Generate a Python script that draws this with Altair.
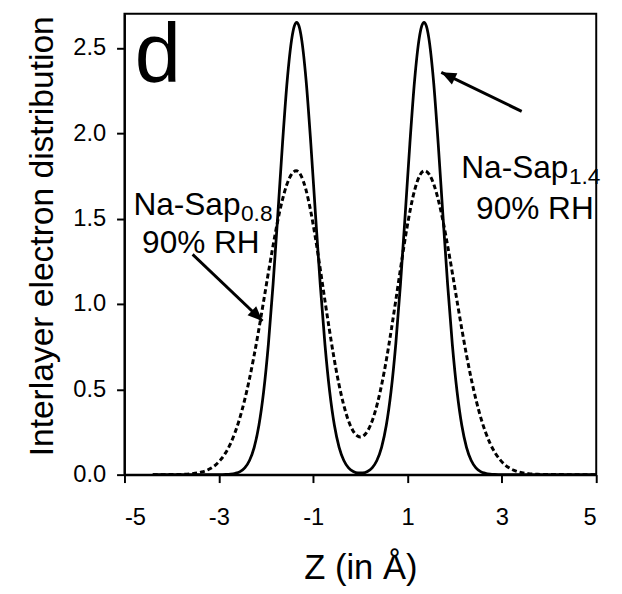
import altair as alt
import pandas as pd

# ---- data ----
solid_z = [-4.4, -3.5, -3.0, -2.85, -2.75, -2.65, -2.55, -2.45, -2.35, -2.25, -2.15, -2.05,
           -1.95, -1.85, -1.75, -1.65, -1.55, -1.45, -1.40, -1.35, -1.30, -1.25, -1.15, -1.05,
           -0.95, -0.85, -0.75, -0.65, -0.55, -0.45, -0.35, -0.25, -0.15, -0.05,
           0.05, 0.15, 0.25, 0.35, 0.45, 0.55, 0.65, 0.75, 0.85, 0.95, 1.05, 1.15, 1.25,
           1.30, 1.35, 1.40, 1.45, 1.55, 1.65, 1.75, 1.85, 1.95, 2.05, 2.15, 2.25, 2.35,
           2.45, 2.55, 2.65, 2.75, 2.85, 3.0, 3.5, 5.0]
solid_v = [0.0, 0.0, 0.0, 0.001, 0.003, 0.008, 0.018, 0.040, 0.083, 0.160, 0.289, 0.486,
           0.762, 1.115, 1.52, 1.94, 2.31, 2.56, 2.627, 2.65, 2.627, 2.56, 2.31, 1.94,
           1.52, 1.115, 0.762, 0.486, 0.289, 0.160, 0.083, 0.040, 0.019, 0.011,
           0.011, 0.019, 0.040, 0.083, 0.160, 0.289, 0.486, 0.762, 1.115, 1.52, 1.94, 2.31, 2.56,
           2.627, 2.65, 2.627, 2.56, 2.31, 1.94, 1.52, 1.115, 0.762, 0.486, 0.289, 0.160, 0.083,
           0.040, 0.018, 0.008, 0.003, 0.001, 0.0, 0.0, 0.0]

dashed_z = [-4.4, -3.96, -3.76, -3.56, -3.36, -3.26, -3.16, -3.06, -2.96, -2.86, -2.76, -2.66,
            -2.56, -2.46, -2.36, -2.26, -2.16, -2.06, -1.96, -1.86, -1.76, -1.66, -1.56, -1.46,
            -1.36, -1.26, -1.16, -1.06, -0.96, -0.86, -0.76, -0.66, -0.56, -0.46, -0.36, -0.26,
            -0.16, -0.06, 0.0, 0.06, 0.16, 0.26, 0.36, 0.46, 0.56, 0.66, 0.76, 0.86, 0.96, 1.06,
            1.16, 1.26, 1.36, 1.46, 1.56, 1.66, 1.76, 1.86, 1.96, 2.06, 2.16, 2.26, 2.36, 2.46,
            2.56, 2.66, 2.76, 2.86, 2.96, 3.06, 3.16, 3.26, 3.36, 3.56, 3.76, 3.96, 5.0]
dashed_v = [0.0, 0.0007, 0.002, 0.006, 0.016, 0.025, 0.039, 0.059, 0.088, 0.126, 0.177, 0.244,
            0.327, 0.429, 0.549, 0.686, 0.838, 1.000, 1.166, 1.326, 1.475, 1.601, 1.698, 1.759,
            1.78, 1.753, 1.676, 1.555, 1.400, 1.223, 1.037, 0.856, 0.686, 0.538, 0.416, 0.322,
            0.259, 0.226, 0.220, 0.226, 0.259, 0.322, 0.416, 0.538, 0.686, 0.856, 1.037, 1.223,
            1.400, 1.555, 1.676, 1.753, 1.78, 1.759, 1.698, 1.601, 1.475, 1.326, 1.166, 1.000,
            0.838, 0.686, 0.549, 0.429, 0.327, 0.244, 0.177, 0.126, 0.088, 0.059, 0.039, 0.025,
            0.016, 0.006, 0.002, 0.0007, 0.0]

x_ticks = [-5, -3, -1, 1, 3, 5]
y_ticks = [0, 0.5, 1.0, 1.5, 2.0, 2.5]

# annotations (data units)
lab_main = ["Na-Sap", "Na-Sap"]
lab_sub = ["0.8", "1.4"]
lab_z = [-4.81, 2.14]
lab_v = [1.523, 1.74]
rh_text = ["90% RH", "90% RH"]
rh_z = [-3.38, 3.70]
rh_v = [1.297, 1.50]
arrow_z1 = [-3.555, 3.42]
arrow_v1 = [1.29, 2.128]
arrow_z2 = [-2.074, 1.716]
arrow_v2 = [0.90, 2.357]
arrow_angle = [134, 296]
panel_letter = ["d"]
panel_z = [-4.78]
panel_v = [2.30]

FONT = "Liberation Sans"

df_s = pd.DataFrame({"z": solid_z, "v": solid_v})
df_d = pd.DataFrame({"z": dashed_z, "v": dashed_v})
df_lab = pd.DataFrame({"main": lab_main, "sub": lab_sub, "z": lab_z, "v": lab_v})
df_rh = pd.DataFrame({"t": rh_text, "z": rh_z, "v": rh_v})
df_arr = pd.DataFrame({"z1": arrow_z1, "v1": arrow_v1, "z2": arrow_z2, "v2": arrow_v2,
                       "ang": arrow_angle})
df_d_letter = pd.DataFrame({"t": panel_letter, "z": panel_z, "v": panel_v})

xs = alt.Scale(domain=[-5, 5], nice=False, zero=False)
ys = alt.Scale(domain=[0, 2.7], nice=False, zero=False)

x_axis = alt.Axis(values=x_ticks, title="Z (in Å)", labelExpr="datum.value + ''",
                  labelPadding=24, titleY=105, titleBaseline="alphabetic", grid=False,
                  titleFontSize=35)
y_axis = alt.Axis(values=y_ticks, title="Interlayer electron distribution", format=".1f",
                  labelPadding=11, titleX=-73, titleY=225, titleBaseline="alphabetic",
                  grid=False, titleFontSize=34)

X = alt.X("z:Q", scale=xs, axis=x_axis)
Y = alt.Y("v:Q", scale=ys, axis=y_axis)

solid = alt.Chart(df_s).mark_line(color="black", strokeWidth=2.8, interpolate="monotone",
                                  clip=True).encode(x=X, y=Y)
dashed = alt.Chart(df_d).mark_line(color="black", strokeWidth=3, strokeDash=[5, 3],
                                   interpolate="monotone", clip=True).encode(
    x=alt.X("z:Q", scale=xs), y=alt.Y("v:Q", scale=ys))

lab1 = alt.Chart(df_lab).mark_text(font=FONT, fontSize=32, align="left", baseline="alphabetic",
                                   color="black").encode(
    x=alt.X("z:Q", scale=xs), y=alt.Y("v:Q", scale=ys), text="main:N")
lab2 = alt.Chart(df_lab).mark_text(font=FONT, fontSize=23, align="left", baseline="alphabetic",
                                   dx=109, dy=6, color="black").encode(
    x=alt.X("z:Q", scale=xs), y=alt.Y("v:Q", scale=ys), text="sub:N")
rh = alt.Chart(df_rh).mark_text(font=FONT, fontSize=32, align="center", baseline="alphabetic",
                                color="black").encode(
    x=alt.X("z:Q", scale=xs), y=alt.Y("v:Q", scale=ys), text="t:N")
letter = alt.Chart(df_d_letter).mark_text(font=FONT, fontSize=84, align="left",
                                          baseline="alphabetic", color="black").encode(
    x=alt.X("z:Q", scale=xs), y=alt.Y("v:Q", scale=ys), text="t:N")

arr_line = alt.Chart(df_arr).mark_rule(color="black", strokeWidth=3).encode(
    x=alt.X("z1:Q", scale=xs), y=alt.Y("v1:Q", scale=ys), x2="z2:Q", y2="v2:Q")
arr_head = alt.Chart(df_arr).mark_point(shape="M0,0 L-0.42,1 L0.42,1 Z", filled=True,
                                        color="black", opacity=1, size=900,
                                        strokeWidth=0).encode(
    x=alt.X("z2:Q", scale=xs), y=alt.Y("v2:Q", scale=ys), angle=alt.Angle("ang:Q", scale=None))

chart = alt.layer(solid, dashed, arr_line, arr_head, lab1, lab2, rh, letter).properties(
    width=478, height=467,
    autosize=alt.AutoSizeParams(type="none"),
    padding={"left": 118, "top": 2, "right": 18, "bottom": 110},
    background="white",
).configure_view(stroke="black", strokeWidth=2).configure_axis(
    domainColor="black", domainWidth=2, tickColor="black", tickWidth=2, tickSize=8,
    labelFont=FONT, labelFontSize=24, labelColor="black",
    titleFont=FONT, titleFontWeight="normal", titleColor="black",
)

chart.save("out.html", embed_options={"renderer": "svg", "actions": False})
